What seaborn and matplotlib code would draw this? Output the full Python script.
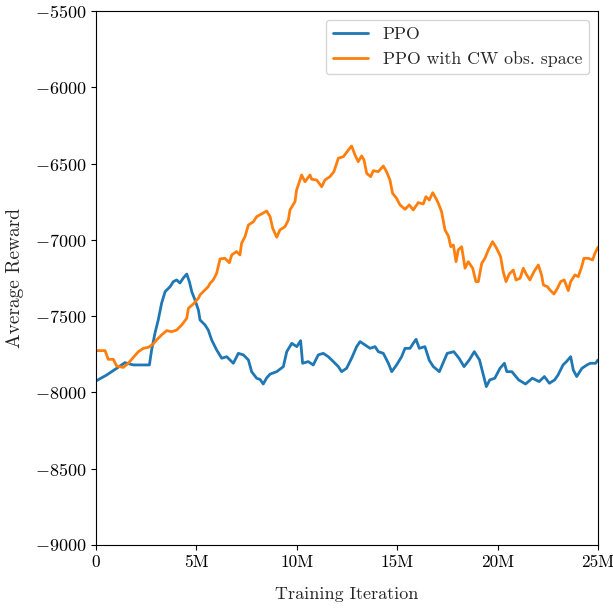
import matplotlib
matplotlib.use("Agg")
import matplotlib.pyplot as plt
from matplotlib.ticker import FuncFormatter, MultipleLocator
from matplotlib.transforms import ScaledTranslation
import numpy as np
import pandas as pd
import seaborn as sns

# Training iteration (millions) and average reward, PPO baseline
ppo_x = [0.0, 0.53, 1.03, 1.44, 1.86, 2.36, 2.66, 2.77, 2.94, 3.10, 3.27, 3.44, 3.69, 3.85,
         4.02, 4.18, 4.35, 4.52, 4.65, 4.77, 4.93, 5.10, 5.18, 5.43, 5.59, 5.76, 6.01, 6.26,
         6.51, 6.84, 7.09, 7.34, 7.59, 7.75, 8.00, 8.17, 8.33, 8.50, 8.67, 9.00, 9.33, 9.50,
         9.75, 10.00, 10.19, 10.29, 10.57, 10.82, 11.07, 11.32, 11.57, 11.82, 12.07, 12.23,
         12.48, 12.73, 12.98, 13.15, 13.40, 13.65, 13.90, 14.06, 14.31, 14.56, 14.73, 14.97,
         15.22, 15.39, 15.64, 15.80, 15.94, 16.10, 16.38, 16.60, 16.80, 17.10, 17.49, 17.82,
         18.08, 18.33, 18.59, 18.84, 19.10, 19.27, 19.44, 19.61, 19.86, 20.12, 20.34, 20.46,
         20.71, 21.05, 21.39, 21.73, 22.07, 22.33, 22.58, 22.84, 23.01, 23.26, 23.43, 23.64,
         23.77, 23.94, 24.20, 24.45, 24.62, 24.88, 25.00]
ppo_reward = [-7925, -7886, -7842, -7805, -7820, -7820, -7820, -7722, -7610, -7525, -7414,
              -7340, -7307, -7274, -7263, -7283, -7250, -7224, -7274, -7340, -7394, -7460,
              -7525, -7558, -7591, -7656, -7722, -7776, -7766, -7809, -7744, -7754, -7787,
              -7864, -7907, -7915, -7945, -7905, -7880, -7864, -7831, -7733, -7678, -7700,
              -7661, -7809, -7798, -7820, -7754, -7744, -7766, -7798, -7831, -7864, -7842,
              -7776, -7700, -7667, -7689, -7711, -7700, -7733, -7744, -7809, -7864, -7820,
              -7766, -7711, -7711, -7678, -7652, -7711, -7700, -7790, -7831, -7864, -7744,
              -7733, -7776, -7831, -7787, -7733, -7787, -7875, -7962, -7918, -7907, -7842,
              -7809, -7864, -7864, -7918, -7945, -7907, -7929, -7896, -7940, -7918, -7886,
              -7820, -7798, -7766, -7853, -7896, -7842, -7820, -7809, -7809, -7787]

# PPO with CW observation space
cw_x = [0.0, 0.45, 0.61, 0.86, 1.03, 1.36, 1.61, 1.86, 2.11, 2.36, 2.61, 2.85, 3.02, 3.27,
        3.52, 3.77, 4.02, 4.27, 4.52, 4.60, 4.85, 5.10, 5.18, 5.34, 5.59, 5.68, 5.84, 6.01,
        6.18, 6.42, 6.64, 6.76, 7.00, 7.17, 7.25, 7.42, 7.59, 7.84, 8.00, 8.25, 8.50, 8.67,
        8.80, 9.00, 9.16, 9.41, 9.58, 9.66, 9.91, 9.99, 10.16, 10.24, 10.41, 10.66, 10.74,
        10.99, 11.24, 11.40, 11.65, 11.85, 12.07, 12.32, 12.57, 12.73, 12.90, 13.06, 13.23,
        13.35, 13.48, 13.68, 13.81, 14.06, 14.31, 14.47, 14.64, 14.77, 14.97, 15.14, 15.39,
        15.60, 15.80, 16.05, 16.30, 16.43, 16.60, 16.77, 16.93, 17.05, 17.21, 17.38, 17.55,
        17.67, 17.80, 17.93, 18.04, 18.21, 18.38, 18.54, 18.76, 18.92, 19.04, 19.21, 19.37,
        19.54, 19.75, 19.95, 20.15, 20.28, 20.42, 20.58, 20.78, 20.92, 21.12, 21.28, 21.45,
        21.61, 21.81, 22.03, 22.19, 22.28, 22.48, 22.61, 22.81, 22.98, 23.14, 23.32, 23.52,
        23.64, 23.85, 24.02, 24.19, 24.30, 24.52, 24.73, 24.85, 25.00]
cw_reward = [-7726, -7726, -7783, -7783, -7827, -7836, -7809, -7770, -7733, -7711, -7704,
             -7683, -7656, -7623, -7595, -7602, -7591, -7558, -7514, -7449, -7420, -7383,
             -7361, -7340, -7307, -7285, -7263, -7219, -7125, -7121, -7150, -7099, -7077,
             -7099, -7023, -6979, -6903, -6881, -6848, -6830, -6811, -6848, -6924, -6983,
             -6935, -6914, -6870, -6804, -6750, -6673, -6608, -6575, -6619, -6575, -6603,
             -6608, -6652, -6608, -6586, -6553, -6465, -6455, -6411, -6385, -6444, -6488,
             -6450, -6477, -6564, -6586, -6547, -6553, -6516, -6553, -6608, -6695, -6728,
             -6771, -6800, -6771, -6804, -6756, -6765, -6717, -6739, -6691, -6728, -6761,
             -6815, -6935, -6975, -7045, -7034, -7143, -7066, -7045, -7186, -7143, -7186,
             -7274, -7274, -7154, -7121, -7066, -7012, -7055, -7110, -7209, -7274, -7224,
             -7198, -7263, -7252, -7186, -7230, -7263, -7209, -7165, -7230, -7296, -7307,
             -7329, -7355, -7318, -7274, -7263, -7333, -7274, -7230, -7241, -7176, -7121,
             -7121, -7132, -7088, -7049]

methods = ["PPO", "PPO with CW obs. space"]
colors = ["#1f77b4", "#ff7f0e"]

df = pd.concat([
    pd.DataFrame({"Iteration": ppo_x, "Reward": ppo_reward, "Method": methods[0]}),
    pd.DataFrame({"Iteration": cw_x, "Reward": cw_reward, "Method": methods[1]}),
], ignore_index=True)

sns.set_style("ticks")
plt.rcParams.update({
    "font.family": "serif",
    "font.serif": ["cmr10"],
    "mathtext.fontset": "cm",
    "axes.formatter.use_mathtext": True,
    "axes.unicode_minus": True,
    "font.size": 12,
    "axes.edgecolor": "black",
    "xtick.color": "black",
    "ytick.color": "black",
})

fig, ax = plt.subplots(figsize=(6.13, 6.09), dpi=100)
fig.subplots_adjust(left=0.1566, right=0.9755, bottom=0.1051, top=0.982)

sns.lineplot(data=df, x="Iteration", y="Reward", hue="Method", hue_order=methods,
             palette=colors, estimator=None, sort=True, linewidth=2.0, ax=ax)

ax.set_xlim(0, 25)
ax.set_ylim(-9000, -5500)
ax.xaxis.set_major_locator(MultipleLocator(5))
ax.yaxis.set_major_locator(MultipleLocator(500))
ax.xaxis.set_major_formatter(FuncFormatter(lambda v, p: "0" if v == 0 else f"{int(round(v))}M"))
ax.tick_params(axis="y", labelsize=13, direction="out", length=3.5, width=0.8)
ax.tick_params(axis="x", labelsize=12.5, direction="out", length=3.5, width=0.8)
for s in ax.spines.values():
    s.set_linewidth(0.8)
    s.set_visible(True)

ax.set_xlabel("Training Iteration", fontsize=13, labelpad=12)
ax.set_ylabel("Average Reward", fontsize=14, labelpad=8)

handles, labels = ax.get_legend_handles_labels()
ax.legend(handles, labels, loc="upper right", fontsize=12.8, frameon=True,
          fancybox=True, framealpha=0.8, edgecolor="0.8")

# keep the last x tick label inside the canvas
fig.canvas.draw()
last = ax.get_xticklabels()[-1]
last.set_transform(last.get_transform() + ScaledTranslation(-4 / 100, 0, fig.dpi_scale_trans))

fig.savefig("out.png", dpi=100)
